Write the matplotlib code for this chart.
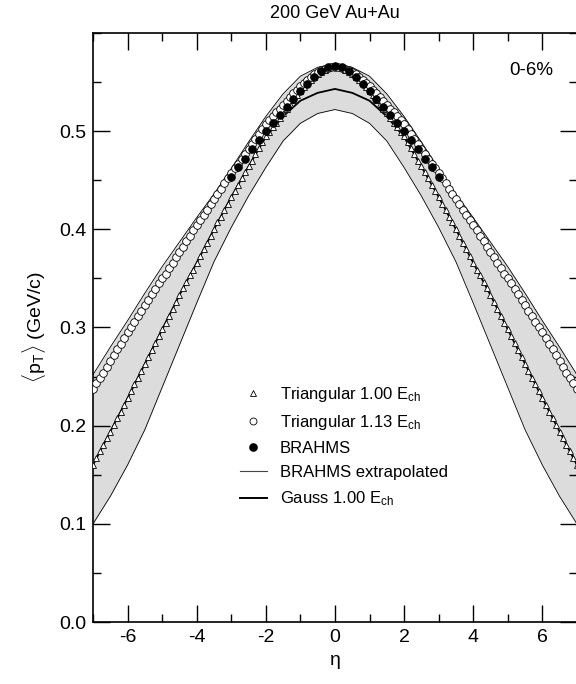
import numpy as np
import matplotlib
matplotlib.use('Agg')
import matplotlib.pyplot as plt
from matplotlib.lines import Line2D
from matplotlib.ticker import MultipleLocator, FormatStrFormatter

plt.rcParams['font.family'] = ['Liberation Sans', 'DejaVu Sans']
plt.rcParams['mathtext.fontset'] = 'custom'
plt.rcParams['mathtext.rm'] = 'Liberation Sans'
plt.rcParams['mathtext.it'] = 'Liberation Sans:italic'
plt.rcParams['axes.unicode_minus'] = False

# model points, eta >= 0 half (curves are symmetric in eta)
eta_pts = np.round(np.arange(0, 71) * 0.1, 1)
tri_100 = [0.565, 0.565, 0.564, 0.562, 0.560, 0.558, 0.555, 0.552, 0.549, 0.545,
           0.541, 0.537, 0.532, 0.528, 0.523, 0.518, 0.513, 0.508, 0.504, 0.499,
           0.495, 0.489, 0.483, 0.477, 0.470, 0.464, 0.458, 0.452, 0.445, 0.439,
           0.433, 0.426, 0.420, 0.413, 0.407, 0.400, 0.393, 0.386, 0.380, 0.373,
           0.366, 0.359, 0.353, 0.346, 0.340, 0.333, 0.326, 0.319, 0.312, 0.305,
           0.298, 0.291, 0.284, 0.277, 0.270, 0.263, 0.256, 0.249, 0.242, 0.235,
           0.228, 0.221, 0.214, 0.208, 0.201, 0.194, 0.187, 0.180, 0.174, 0.167,
           0.160]
tri_113 = [0.565, 0.565, 0.564, 0.563, 0.562, 0.560, 0.558, 0.555, 0.552, 0.549,
           0.546, 0.542, 0.539, 0.535, 0.531, 0.527, 0.523, 0.519, 0.515, 0.511,
           0.507, 0.502, 0.497, 0.492, 0.487, 0.482, 0.477, 0.472, 0.467, 0.462,
           0.457, 0.452, 0.447, 0.441, 0.436, 0.431, 0.426, 0.420, 0.415, 0.409,
           0.404, 0.399, 0.393, 0.388, 0.382, 0.377, 0.372, 0.366, 0.361, 0.355,
           0.350, 0.345, 0.339, 0.334, 0.328, 0.323, 0.317, 0.312, 0.306, 0.301,
           0.295, 0.289, 0.283, 0.278, 0.272, 0.266, 0.260, 0.254, 0.249, 0.243,
           0.237]

# BRAHMS points
eta_brahms = np.round(np.arange(0, 16) * 0.2, 1)
brahms = [0.566, 0.565, 0.561, 0.555, 0.548, 0.541, 0.533, 0.525, 0.516, 0.508,
          0.500, 0.491, 0.482, 0.472, 0.463, 0.453]

# lines and band
eta_line = np.arange(0, 15) * 0.5
gauss_100 = [0.543, 0.539, 0.531, 0.515, 0.494, 0.464, 0.433, 0.400, 0.366, 0.333,
             0.298, 0.263, 0.228, 0.194, 0.160]
band_hi = [0.569, 0.565, 0.556, 0.538, 0.515, 0.489, 0.462, 0.436, 0.412, 0.387,
           0.362, 0.335, 0.307, 0.280, 0.252]
band_lo = [0.522, 0.518, 0.508, 0.490, 0.463, 0.434, 0.402, 0.367, 0.325, 0.282,
           0.239, 0.196, 0.160, 0.128, 0.100]


def mirror(x, y):
    x = np.asarray(x); y = np.asarray(y)
    return np.concatenate((-x[:0:-1], x)), np.concatenate((y[:0:-1], y))


fig = plt.figure(figsize=(5.76, 6.84), dpi=100)
ax = fig.add_axes([0.1615, 0.0906, 0.8400, 0.8612])

xl, yh = mirror(eta_line, band_hi)
_, yl = mirror(eta_line, band_lo)
ax.fill_between(xl, yl, yh, color='#dcdcdc', lw=0, zorder=1)
ax.plot(xl, yh, color='k', lw=0.6, zorder=2)
ax.plot(xl, yl, color='k', lw=0.6, zorder=2)
xg, yg = mirror(eta_line, gauss_100)
ax.plot(xg, yg, color='k', lw=1.3, zorder=3)

xt, yt = mirror(eta_pts, tri_100)
ax.plot(xt, yt, ls='none', marker='^', ms=4.4, mfc='white', mec='k', mew=0.6, zorder=4)
xo, yo = mirror(eta_pts, tri_113)
ax.plot(xo, yo, ls='none', marker='o', ms=5.5, mfc='white', mec='k', mew=0.6, zorder=5)
xb, yb = mirror(eta_brahms, brahms)
ax.plot(xb, yb, ls='none', marker='o', ms=5.5, mfc='k', mec='k', mew=0.6, zorder=6)

ax.set_xlim(-7, 7)
ax.set_ylim(0, 0.6)
ax.xaxis.set_major_locator(MultipleLocator(2))
ax.xaxis.set_minor_locator(MultipleLocator(1))
ax.yaxis.set_minor_locator(MultipleLocator(0.05))
ax.set_yticks([0.0, 0.1, 0.2, 0.3, 0.4, 0.5])
ax.yaxis.set_major_formatter(FormatStrFormatter('%.1f'))
ax.tick_params(which='both', direction='in', top=True, right=True, labelsize=14, width=1.0)
ax.tick_params(which='major', length=12, pad=5)
ax.tick_params(which='minor', length=6)
for s in ax.spines.values():
    s.set_linewidth(1.2)

ax.set_xlabel('η', fontsize=14, labelpad=4)
ax.set_ylabel(r'$\langle\mathrm{p}_{\mathrm{T}}\rangle$ (GeV/c)', fontsize=14, labelpad=8)
ax.set_title('200 GeV Au+Au', fontsize=13, pad=11)
ax.text(0.905, 0.937, '0-6%', transform=ax.transAxes, fontsize=13.5, ha='center', va='center')

handles = [
    Line2D([], [], ls='none', marker='^', ms=4.4, mfc='white', mec='k', mew=0.6),
    Line2D([], [], ls='none', marker='o', ms=5.0, mfc='white', mec='k', mew=0.6),
    Line2D([], [], ls='none', marker='o', ms=5.2, mfc='k', mec='k'),
    Line2D([], [], color='#444444', lw=0.8),
    Line2D([], [], color='k', lw=1.4),
]
labels = [r'Triangular 1.00 E$_{\mathrm{ch}}$', r'Triangular 1.13 E$_{\mathrm{ch}}$',
          'BRAHMS', 'BRAHMS extrapolated', r'Gauss 1.00 E$_{\mathrm{ch}}$']
ax.legend(handles, labels, loc='upper left', bbox_to_anchor=(0.29, 0.414), frameon=False,
          fontsize=12, handlelength=1.6, handletextpad=0.8, labelspacing=0.55,
          borderaxespad=0)

fig.savefig('out.png', dpi=100)
